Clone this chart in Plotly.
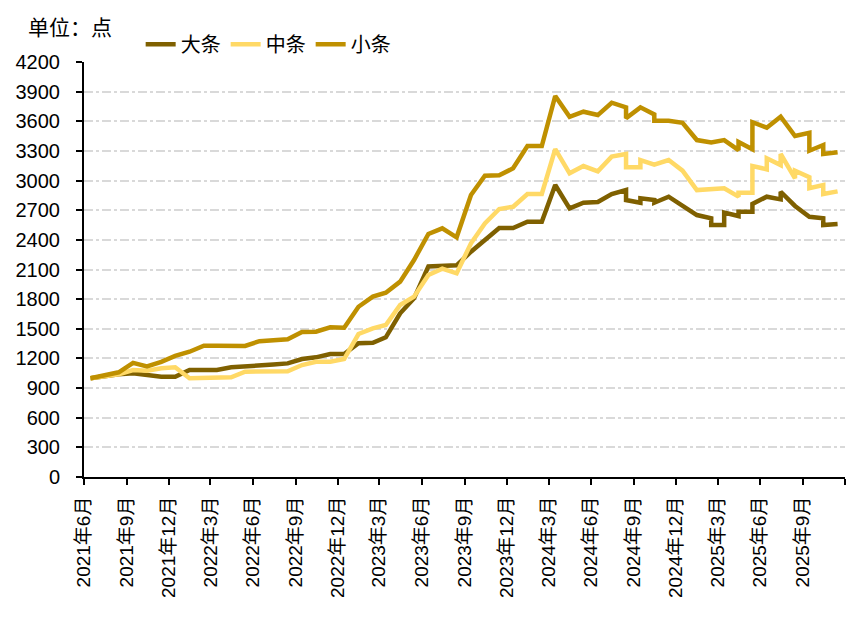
import plotly.graph_objects as go

# month categories (data points sit mid-month)
months = [
    "2021-06", "2021-07", "2021-08", "2021-09", "2021-10", "2021-11", "2021-12",
    "2022-01", "2022-02", "2022-03", "2022-04", "2022-05", "2022-06", "2022-07",
    "2022-08", "2022-09", "2022-10", "2022-11", "2022-12", "2023-01", "2023-02",
    "2023-03", "2023-04", "2023-05", "2023-06", "2023-07", "2023-08", "2023-09",
    "2023-10", "2023-11", "2023-12", "2024-01", "2024-02", "2024-03", "2024-04",
    "2024-05", "2024-06", "2024-07", "2024-08", "2024-09", "2024-10", "2024-11",
    "2024-12", "2025-01", "2025-02", "2025-03", "2025-04", "2025-05", "2025-06",
    "2025-07", "2025-08", "2025-09", "2025-10", "2025-11",
]

# values per month; a list means several readings within the same month
large = [1000, 1022, 1039, 1049, 1032, 1015, 1015, 1083, 1083, 1083,
         1110, 1123, 1133, 1138, 1150, 1194, 1211, 1245, 1245, 1353,
         1359, 1414, 1657, 1808, 2130, 2135, 2142, 2280, 2405, 2520,
         2520, 2584, 2584, 2955, 2719, 2776, 2783, 2864, [2904, 2803], [2776, 2820],
         [2803, 2776], 2837, 2743, 2651, [2618, 2550], [2550, 2675], [2641, 2685], [2685, 2763], 2837, [2810, 2887],
         2743, 2634, [2618, 2550], 2560]

mid = [1000, 1022, 1039, 1083, 1076, 1100, 1110, 999, 999, 1000,
       1009, 1066, 1070, 1069, 1069, 1133, 1167, 1167, 1194, 1447,
       1505, 1538, 1741, 1825, 2045, 2108, 2061, 2365, 2567, 2712,
       2735, 2864, 2864, 3319, 3073, 3147, 3094, 3242, [3269, 3134], [3134, 3208],
       3161, 3208, 3100, 2904, 2911, 2922, [2837, 2877], [2877, 3147], [3114, 3225], [3157, 3269],
       [3023, 3100], [3033, 2922], [2955, 2864], 2891]

small = [1000, 1035, 1060, 1155, 1120, 1165, 1225, 1268, 1329, 1328,
         1326, 1326, 1375, 1383, 1393, 1467, 1471, 1515, 1511, 1723,
         1825, 1865, 1977, 2196, 2460, 2517, 2426, 2854, 3049, 3053,
         3124, 3350, 3350, 3856, 3646, 3697, 3663, 3788, [3741, 3630], 3741,
         [3670, 3606], 3606, 3585, 3410, 3385, 3410, [3309, 3390], [3316, 3590], 3535, 3646,
         3451, [3484, 3302], [3360, 3269], 3286]

series_names = ["大条", "中条", "小条"]
series_colors = ["#7F6000", "#FFD966", "#BF9000"]

tick_dates = ["2021-06-01", "2021-09-01", "2021-12-01", "2022-03-01", "2022-06-01",
              "2022-09-01", "2022-12-01", "2023-03-01", "2023-06-01", "2023-09-01",
              "2023-12-01", "2024-03-01", "2024-06-01", "2024-09-01", "2024-12-01",
              "2025-03-01", "2025-06-01", "2025-09-01", "2025-12-01"]
tick_labels = ["2021年6月", "2021年9月", "2021年12月", "2022年3月", "2022年6月",
               "2022年9月", "2022年12月", "2023年3月", "2023年6月", "2023年9月",
               "2023年12月", "2024年3月", "2024年6月", "2024年9月", "2024年12月",
               "2025年3月", "2025年6月", "2025年9月", ""]


def expand(vals):
    xs, ys = [], []
    for m, v in zip(months, vals):
        for vv in (v if isinstance(v, list) else [v]):
            xs.append(m + "-15")
            ys.append(vv)
    return xs, ys


FONT = "Liberation Sans, Noto Sans CJK SC, sans-serif"

fig = go.Figure()
for name, vals, col in zip(series_names, [large, mid, small], series_colors):
    xs, ys = expand(vals)
    fig.add_trace(go.Scatter(x=xs, y=ys, mode="lines", name=name,
                             line=dict(color=col, width=4.5)))

# the page body adds an 8px offset, so margins are reduced accordingly
fig.update_layout(
    width=865, height=620,
    margin=dict(l=76, r=28, t=54, b=151, pad=0),
    paper_bgcolor="white", plot_bgcolor="white",
    font=dict(family=FONT, color="#000000"),
    legend=dict(orientation="h", x=0.242, xanchor="center", y=1.043, yanchor="middle",
                font=dict(size=20, family=FONT), itemwidth=30,
                entrywidth=40, entrywidthmode="pixels",
                bgcolor="rgba(0,0,0,0)", traceorder="normal"),
    xaxis=dict(type="date", range=["2021-06-01", "2025-12-01"], automargin=False,
               tickmode="array", tickvals=tick_dates, ticktext=tick_labels,
               tickangle=-90, showgrid=False, zeroline=False,
               showline=True, linecolor="black", linewidth=2,
               ticks="outside", ticklen=6, tickwidth=2, tickcolor="black",
               tickfont=dict(size=19, family=FONT), ticklabelstandoff=4),
    yaxis=dict(range=[0, 4200], tick0=0, dtick=300, zeroline=False, automargin=False,
               showgrid=True, gridcolor="#D9D9D9", gridwidth=1.5, griddash="dashdot",
               showline=True, linecolor="black", linewidth=2,
               ticks="outside", ticklen=6, tickwidth=2, tickcolor="black",
               tickfont=dict(size=20, family=FONT), ticklabelstandoff=12),
    annotations=[dict(text="单位：点", xref="paper", yref="paper",
                      x=-0.076, xanchor="left", y=1.084, yanchor="middle",
                      showarrow=False, font=dict(size=21, family=FONT))],
)

fig.write_html("out.html")
